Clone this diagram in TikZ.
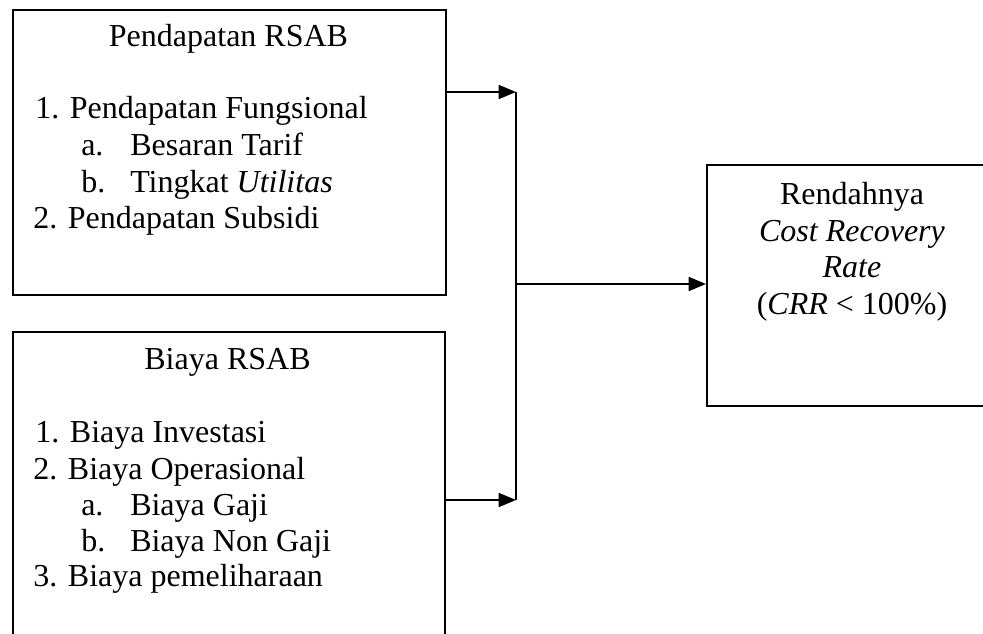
\documentclass[tikz,border=0pt]{standalone}
\usepackage{fontspec}
\setmainfont{Liberation Serif}
\usetikzlibrary{arrows.meta}
\tikzset{
  box/.style={draw, line width=1.4pt, rectangle, inner sep=0pt, anchor=north west},
  txt/.style={anchor=base west, inner sep=0pt, font=\fontsize{24}{27.5}\selectfont},
  ctxt/.style={anchor=base, inner sep=0pt, font=\fontsize{24}{27.5}\selectfont},
  conn/.style={line width=1.3pt},
  arr/.style={line width=1.3pt, -{Triangle[length=13pt,width=10.5pt]}}
}
\newcommand{\lbl}[1]{\makebox[36.75pt][l]{#1}}
\begin{document}
\begin{tikzpicture}[x=0.75pt, y=-0.75pt]
\useasboundingbox[fill=white] (0,0) rectangle (983,634);
\clip (0,0) rectangle (983,634);
% boxes
\node[box, minimum width=324.75pt, minimum height=213.75pt] (box1) at (12,9) {};
\node[box, minimum width=324pt, minimum height=240pt] (box2) at (12,331) {};
\node[box, minimum width=225pt, minimum height=180.75pt] (box3) at (706,164) {};
% box1 text
\node[ctxt] (t1) at (228.5,47) {Pendapatan RSAB};
\node[txt] (t2) at (35,119) {1. Pendapatan Fungsional};
\node[txt] (t3) at (81,156) {\lbl{a.}Besaran Tarif};
\node[txt] (t4) at (81,193) {\lbl{b.}Tingkat \textit{Utilitas}};
\node[txt] (t5) at (33,229) {2. Pendapatan Subsidi};
% box2 text
\node[ctxt] (u1) at (227.5,370) {Biaya RSAB};
\node[txt] (u2) at (35,443) {1. Biaya Investasi};
\node[txt] (u3) at (33,480) {2. Biaya Operasional};
\node[txt] (u4) at (81,516) {\lbl{a.}Biaya Gaji};
\node[txt] (u5) at (81,552) {\lbl{b.}Biaya Non Gaji};
\node[txt] (u6) at (33,587) {3. Biaya pemeliharaan};
% box3 text
\node[ctxt] (v1) at (852,205) {Rendahnya};
\node[ctxt] (v2) at (852,242) {\textit{Cost Recovery}};
\node[ctxt] (v3) at (852,278) {\textit{Rate}};
\node[ctxt] (v4) at (852,315) {(\textit{CRR} < 100\%)};
% connectors
\coordinate (j1) at (516,92);
\coordinate (j2) at (516,500);
\coordinate (jm) at (516,284);
\draw[arr] (box1.east |- j1) -- (j1);
\draw[arr] (box2.east |- j2) -- (j2);
\draw[conn] (j1) -- (j2);
\draw[arr] (jm) -- (box3.west |- jm);
\end{tikzpicture}
\end{document}
